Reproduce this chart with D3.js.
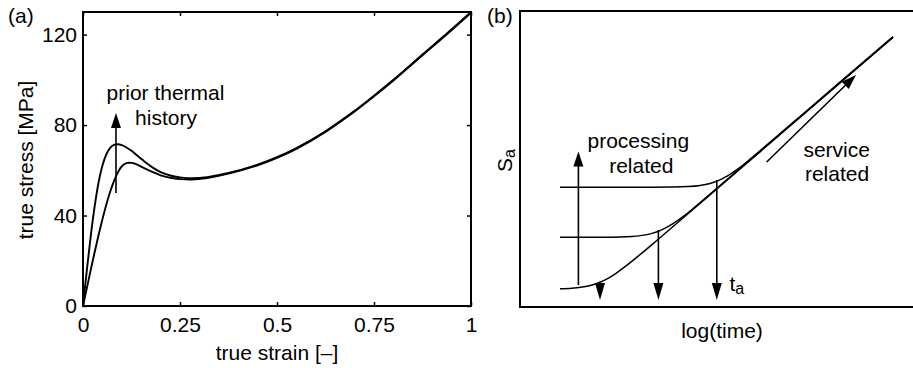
<!DOCTYPE html>
<html>
<head>
<meta charset="utf-8">
<script src="https://cdn.jsdelivr.net/npm/d3@7"></script>
<style>
  body { margin: 0; background: #fff; }
  text { font-family: 'Liberation Sans', Arial, Helvetica, sans-serif; fill: #000; }
</style>
</head>
<body>
<svg id="fig"></svg>
<script>
// ---- data, panel (a): stress-strain curves ----
const strain = [0, 0.01, 0.02, 0.03, 0.04, 0.05, 0.06, 0.07, 0.08, 0.09, 0.1, 0.112, 0.125, 0.14, 0.155, 0.18, 0.2, 0.225, 0.25, 0.28, 0.32, 0.375, 0.45, 0.5, 0.55, 0.625, 0.7, 0.75, 0.8, 0.875, 0.94, 1];
const stressAged = [0, 16, 31, 44, 54.5, 62, 67, 69.9, 71.2, 71.5, 71.1, 70.1, 68.6, 66.5, 64.4, 61.2, 59.2, 57.7, 56.9, 56.5, 57.0, 58.8, 62.5, 65.8, 69.8, 77.3, 86.3, 93.0, 100.0, 111.2, 120.8, 130];
const stressYoung = [0, 8, 16, 23.8, 31.3, 38.3, 44.8, 50.5, 55.3, 59.1, 61.8, 63.2, 63.3, 62.5, 61.2, 59.2, 57.8, 56.7, 56.1, 55.9, 56.6, 58.5, 62.2, 65.5, 69.5, 77.0, 86.0, 92.7, 99.7, 110.9, 120.5, 129.7];
const xTicksA = [0, 0.25, 0.5, 0.75, 1];
const xTickLabelsA = ['0', '0.25', '0.5', '0.75', '1'];
const yTicksA = [0, 40, 80, 120];
const thermalArrow = [[0.085, 50], [0.085, 85.3]];

// ---- data, panel (b): schematic S_a vs log(time) ----
const logTimeLow = [10, 13, 16, 18, 20, 22, 24, 27, 30, 35, 45, 60, 75, 93.25];
const saLow = [6.18, 6.36, 6.82, 7.42, 8.36, 9.69, 11.39, 14.38, 17.68, 23.4, 35.0, 52.43, 69.86, 91.07];
const logTimeMid = [10, 20, 25, 28, 31, 33, 35.15, 37, 39, 42, 45, 50, 60, 75, 93.25];
const saMid = [23.55, 23.57, 23.65, 23.83, 24.28, 24.87, 25.89, 27.14, 28.83, 31.82, 35.2, 41.0, 52.6, 70.0, 91.2];
const logTimeHigh = [10, 30, 38, 42, 45, 47.5, 49.68, 52, 54.5, 58, 62, 70, 80, 93.25];
const saHigh = [40.44, 40.44, 40.5, 40.67, 41.06, 41.75, 42.78, 44.39, 46.63, 50.45, 55.05, 64.35, 75.97, 91.35];
const processingArrow = [[14.6, 7.43], [14.6, 52.5]];
const agingArrowsX = [20, 34.6, 49.2];
const agingArrowsTop = [8.55, 26.0, 42.9];
const agingArrowsBottom = 2.36;
const serviceArrow = [[61.67, 49.0], [84, 78.4]];

// ---- figure ----
const width = 913, height = 368;
const fs = 21;
const svg = d3.select('#fig').attr('width', width).attr('height', height);
svg.append('rect').attr('width', width).attr('height', height).attr('fill', '#fff');

function arrow(g, p1, p2, headLen, headW, sw) {
  const dx = p2[0] - p1[0], dy = p2[1] - p1[1];
  const len = Math.hypot(dx, dy), ux = dx / len, uy = dy / len;
  const bx = p2[0] - ux * headLen, by = p2[1] - uy * headLen;
  g.append('line')
    .attr('x1', p1[0]).attr('y1', p1[1])
    .attr('x2', bx + ux).attr('y2', by + uy)
    .attr('stroke', '#000').attr('stroke-width', sw);
  g.append('path')
    .attr('d', `M${p2[0]},${p2[1]}L${bx - uy * headW / 2},${by + ux * headW / 2}L${bx + uy * headW / 2},${by - ux * headW / 2}Z`)
    .attr('fill', '#000');
}

// ---- panel (a) ----
const ax = { left: 83, right: 471, top: 12, bottom: 306 };
const xA = d3.scaleLinear().domain([0, 1]).range([ax.left, ax.right]);
const yA = d3.scaleLinear().domain([0, 130]).range([ax.bottom, ax.top]);
const gA = svg.append('g');

const fmtX = (d, i) => xTickLabelsA[i];
gA.append('g').attr('transform', `translate(0,${ax.bottom})`)
  .call(d3.axisBottom(xA).tickValues(xTicksA).tickFormat(fmtX).tickSizeInner(-4).tickSizeOuter(0).tickPadding(11));
gA.append('g').attr('transform', `translate(0,${ax.top})`)
  .call(d3.axisTop(xA).tickValues(xTicksA).tickFormat('').tickSizeInner(-4).tickSizeOuter(0));
gA.append('g').attr('transform', `translate(${ax.left},0)`)
  .call(d3.axisLeft(yA).tickValues(yTicksA).tickFormat(d3.format('d')).tickSizeInner(-4).tickSizeOuter(0).tickPadding(6));
gA.append('g').attr('transform', `translate(${ax.right},0)`)
  .call(d3.axisRight(yA).tickValues(yTicksA).tickFormat('').tickSizeInner(-4).tickSizeOuter(0));
gA.selectAll('.domain').remove();
gA.selectAll('.tick line').attr('stroke', '#000').attr('stroke-width', 1.5);
gA.selectAll('.tick text').attr('font-size', fs).attr('font-family', null);

const lineA = d3.line().x(d => xA(d[0])).y(d => yA(d[1])).curve(d3.curveCatmullRom.alpha(0.5));
[stressAged, stressYoung].forEach(s => {
  gA.append('path').datum(strain.map((x, i) => [x, s[i]]))
    .attr('d', lineA).attr('fill', 'none').attr('stroke', '#000').attr('stroke-width', 1.9);
});

gA.append('rect').attr('x', ax.left).attr('y', ax.top)
  .attr('width', ax.right - ax.left).attr('height', ax.bottom - ax.top)
  .attr('fill', 'none').attr('stroke', '#000').attr('stroke-width', 2);

arrow(gA, [xA(thermalArrow[0][0]), yA(thermalArrow[0][1])], [xA(thermalArrow[1][0]), yA(thermalArrow[1][1])], 15, 10, 1.6);

gA.append('text').attr('x', 165.5).attr('y', 99.5).attr('text-anchor', 'middle').attr('font-size', fs).text('prior thermal');
gA.append('text').attr('x', 166).attr('y', 124.5).attr('text-anchor', 'middle').attr('font-size', fs).text('history');
gA.append('text').attr('x', (ax.left + ax.right) / 2).attr('y', 360).attr('text-anchor', 'middle').attr('font-size', fs).text('true strain [–]');
gA.append('text').attr('transform', 'translate(33,160) rotate(-90)')
  .attr('text-anchor', 'middle').attr('font-size', fs).text('true stress [MPa]');
gA.append('text').attr('x', 8).attr('y', 22.5).attr('font-size', fs).text('(a)');

// ---- panel (b) ----
const bx = { left: 520, right: 920, top: 11, bottom: 307 };
const xB = d3.scaleLinear().domain([0, 100]).range([bx.left, bx.right]);
const yB = d3.scaleLinear().domain([0, 100]).range([bx.bottom, bx.top]);
const gB = svg.append('g');

const lineB = d3.line().x(d => xB(d[0])).y(d => yB(d[1])).curve(d3.curveMonotoneX);
[[logTimeLow, saLow], [logTimeMid, saMid], [logTimeHigh, saHigh]].forEach(([xs, ys]) => {
  gB.append('path').datum(xs.map((x, i) => [x, ys[i]]))
    .attr('d', lineB).attr('fill', 'none').attr('stroke', '#000').attr('stroke-width', 1.5);
});

gB.append('rect').attr('x', bx.left).attr('y', bx.top)
  .attr('width', bx.right - bx.left).attr('height', bx.bottom - bx.top)
  .attr('fill', 'none').attr('stroke', '#000').attr('stroke-width', 2);

arrow(gB, [xB(processingArrow[0][0]), yB(processingArrow[0][1])], [xB(processingArrow[1][0]), yB(processingArrow[1][1])], 15, 10, 1.6);
agingArrowsX.forEach((x, i) => {
  arrow(gB, [xB(x), yB(agingArrowsTop[i])], [xB(x), yB(agingArrowsBottom)], 17, 10, 1.6);
});
arrow(gB, [xB(serviceArrow[0][0]), yB(serviceArrow[0][1])], [xB(serviceArrow[1][0]), yB(serviceArrow[1][1])], 15, 10, 1.6);

gB.append('text').attr('x', 638.3).attr('y', 148).attr('text-anchor', 'middle').attr('font-size', fs).text('processing');
gB.append('text').attr('x', 641.3).attr('y', 173).attr('text-anchor', 'middle').attr('font-size', fs).text('related');
gB.append('text').attr('x', 836.7).attr('y', 156.5).attr('text-anchor', 'middle').attr('font-size', fs).text('service');
gB.append('text').attr('x', 837).attr('y', 181).attr('text-anchor', 'middle').attr('font-size', fs).text('related');

const ta = gB.append('text').attr('x', 729.5).attr('y', 291).attr('font-size', fs);
ta.append('tspan').text('t');
ta.append('tspan').attr('font-size', 16).attr('dy', 3).text('a');

const sa = gB.append('text').attr('transform', 'translate(511.5,172) rotate(-90)').attr('font-size', fs);
sa.append('tspan').text('S');
sa.append('tspan').attr('font-size', 16).attr('dy', 3).text('a');

gB.append('text').attr('x', 722).attr('y', 337.5).attr('text-anchor', 'middle').attr('font-size', fs).text('log(time)');
gB.append('text').attr('x', 487).attr('y', 22.5).attr('font-size', fs).text('(b)');
</script>
</body>
</html>
